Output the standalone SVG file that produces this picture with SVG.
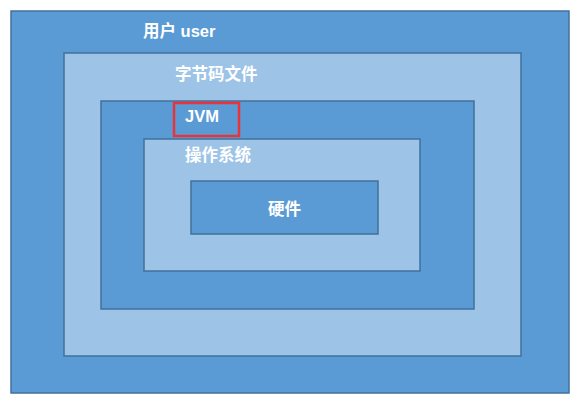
<svg xmlns="http://www.w3.org/2000/svg" width="581" height="404" viewBox="0 0 581 404">
<style>
.dark{fill:#5b9bd5;stroke:#41719c;stroke-width:1.5}
.light{fill:#9dc3e6;stroke:#41719c;stroke-width:1.5}
.t{font-family:"Liberation Sans","Noto Sans CJK SC",sans-serif;font-weight:bold;font-size:16.5px;fill:#ffffff}
</style>
<rect width="581" height="404" fill="#ffffff"/>
<g id="user"><rect class="dark" x="11" y="11" width="558" height="382"/><text class="t" x="143" y="37">用户 user</text></g>
<g id="bytecode"><rect class="light" x="64" y="53" width="457" height="303"/><text class="t" x="175" y="80">字节码文件</text></g>
<g id="jvm"><rect class="dark" x="101" y="101" width="373" height="208"/><rect x="174" y="103" width="65" height="33" fill="none" stroke="#e8333a" stroke-width="2.5"/><text class="t" x="185" y="122">JVM</text></g>
<g id="os"><rect class="light" x="144" y="139" width="276" height="132"/><text class="t" x="185" y="161">操作系统</text></g>
<g id="hardware"><rect class="dark" x="191" y="181" width="187" height="53"/><text class="t" x="268" y="215">硬件</text></g>
<g id="connectors"/>
</svg>
